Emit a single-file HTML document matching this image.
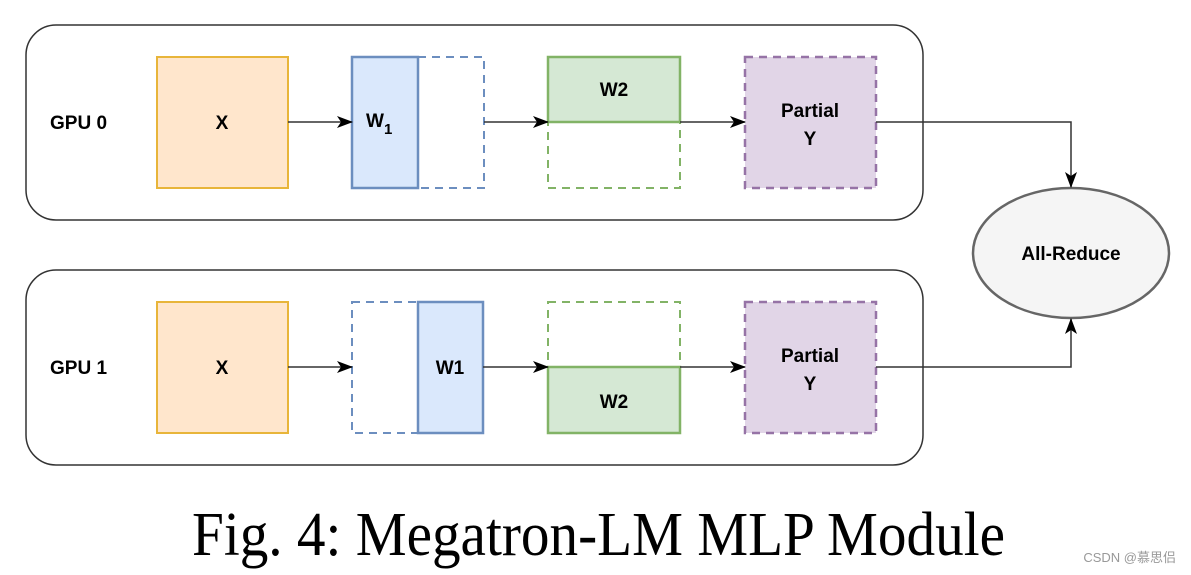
<!DOCTYPE html>
<html><head><meta charset="utf-8"><style>
html,body{margin:0;padding:0;background:#fff;}
svg{display:block;}
.b{font-family:"Liberation Sans",Arial,sans-serif;font-weight:bold;font-size:19px;fill:#000;}
</style></head><body>
<svg width="1191" height="575" viewBox="0 0 1191 575" xmlns="http://www.w3.org/2000/svg">
<defs>
<marker id="a" markerWidth="16" markerHeight="12" refX="15" refY="6" orient="auto" markerUnits="userSpaceOnUse">
<path d="M0,0 L16,6 L0,12 L4,6 Z" fill="#000"/>
</marker>
</defs>
<rect x="26" y="25" width="897" height="195" rx="30" fill="#fff" stroke="#333" stroke-width="1.5"/>
<rect x="26" y="270" width="897" height="195" rx="30" fill="#fff" stroke="#333" stroke-width="1.5"/>
<text class="b" x="50" y="129" font-size="18">GPU 0</text>
<text class="b" x="50" y="374" font-size="18">GPU 1</text>

<rect x="157" y="57" width="131" height="131" fill="#ffe6cc" stroke="#e8b53a" stroke-width="2"/>
<text class="b" x="222" y="129" text-anchor="middle">X</text>
<rect x="418" y="57" width="66" height="131" fill="none" stroke="#6c8ebf" stroke-width="2" stroke-dasharray="8,6"/>
<rect x="352" y="57" width="66" height="131" fill="#dae8fc" stroke="#6c8ebf" stroke-width="2.5"/>
<text class="b" x="366" y="127">W<tspan font-size="15" dy="7">1</tspan></text>
<rect x="548" y="122" width="132" height="66" fill="none" stroke="#82b366" stroke-width="2" stroke-dasharray="8,6"/>
<rect x="548" y="57" width="132" height="65" fill="#d5e8d4" stroke="#82b366" stroke-width="2.5"/>
<text class="b" x="614" y="96" text-anchor="middle">W2</text>
<rect x="745" y="57" width="131" height="131" fill="#e1d5e7" stroke="#9673a6" stroke-width="2.5" stroke-dasharray="8,6"/>
<text class="b" x="810" y="117" text-anchor="middle">Partial</text>
<text class="b" x="810" y="145" text-anchor="middle">Y</text>

<rect x="157" y="302" width="131" height="131" fill="#ffe6cc" stroke="#e8b53a" stroke-width="2"/>
<text class="b" x="222" y="374" text-anchor="middle">X</text>
<rect x="352" y="302" width="66" height="131" fill="none" stroke="#6c8ebf" stroke-width="2" stroke-dasharray="8,6"/>
<rect x="418" y="302" width="65" height="131" fill="#dae8fc" stroke="#6c8ebf" stroke-width="2.5"/>
<text class="b" x="450" y="374" text-anchor="middle">W1</text>
<rect x="548" y="302" width="132" height="65" fill="none" stroke="#82b366" stroke-width="2" stroke-dasharray="8,6"/>
<rect x="548" y="367" width="132" height="66" fill="#d5e8d4" stroke="#82b366" stroke-width="2.5"/>
<text class="b" x="614" y="408" text-anchor="middle">W2</text>
<rect x="745" y="302" width="131" height="131" fill="#e1d5e7" stroke="#9673a6" stroke-width="2.5" stroke-dasharray="8,6"/>
<text class="b" x="810" y="362" text-anchor="middle">Partial</text>
<text class="b" x="810" y="390" text-anchor="middle">Y</text>

<ellipse cx="1071" cy="253" rx="98" ry="65" fill="#f5f5f5" stroke="#666" stroke-width="2.5"/>
<text class="b" x="1071" y="260" text-anchor="middle">All-Reduce</text>

<g stroke="#333" stroke-width="1.5" fill="none" marker-end="url(#a)">
<line x1="288" y1="122" x2="352" y2="122"/>
<line x1="484" y1="122" x2="548" y2="122"/>
<line x1="680" y1="122" x2="745" y2="122"/>
<polyline points="876,122 1071,122 1071,187"/>
<line x1="288" y1="367" x2="352" y2="367"/>
<line x1="483" y1="367" x2="548" y2="367"/>
<line x1="680" y1="367" x2="745" y2="367"/>
<polyline points="876,367 1071,367 1071,319"/>
</g>

<text x="192" y="555" font-family="'Liberation Serif','Times New Roman',serif" font-size="62" textLength="813" lengthAdjust="spacingAndGlyphs" fill="#000">Fig. 4: Megatron-LM MLP Module</text>
<text x="1176" y="562" text-anchor="end" font-family="'Liberation Sans','Noto Sans CJK SC',sans-serif" font-size="13" fill="#999">CSDN @慕思侣</text>
</svg>
</body></html>
